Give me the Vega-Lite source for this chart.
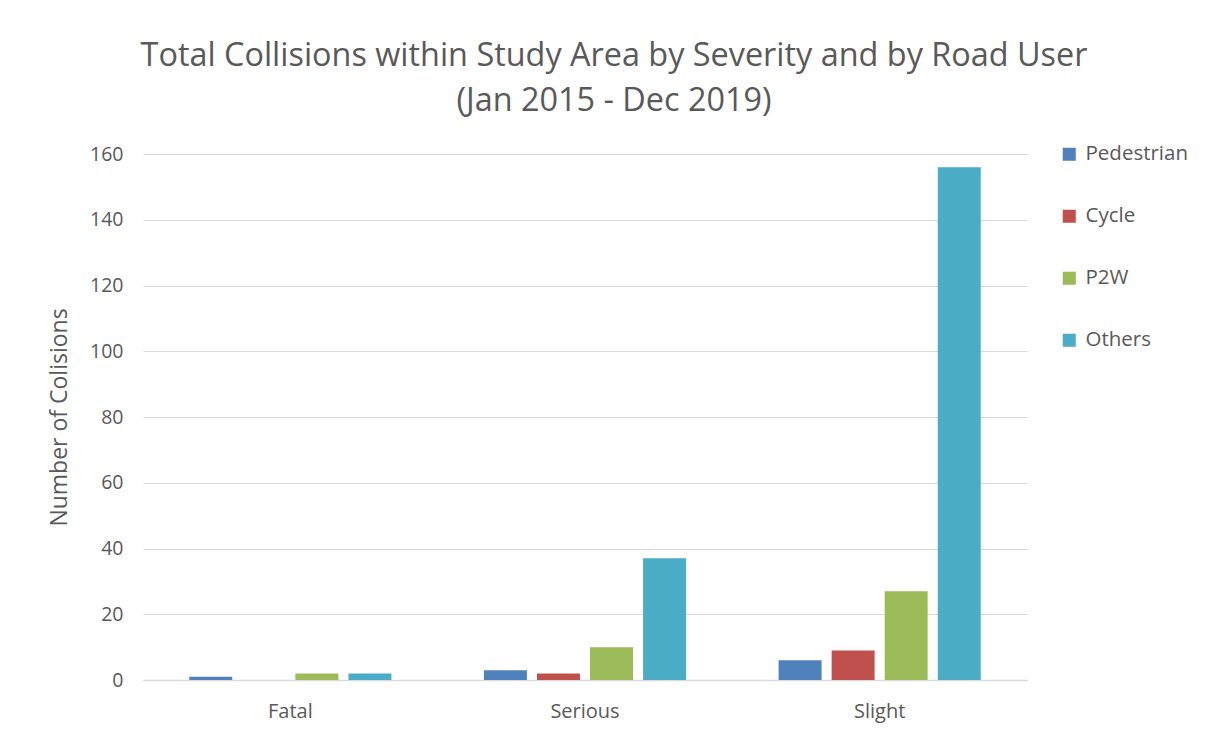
{
  "$schema": "https://vega.github.io/schema/vega-lite/v6.json",
  "autosize": "none",
  "width": 884,
  "height": 526,
  "padding": {"left": 143, "top": 154, "right": 192, "bottom": 55},
  "background": "white",
  "title": {
    "text": ["Total Collisions within Study Area by Severity and by Road User", "(Jan 2015 - Dec 2019)"],
    "anchor": "middle",
    "dx": 29,
    "offset": 27,
    "font": "Open Sans",
    "fontSize": 32.4,
    "fontWeight": "normal",
    "color": "#595959",
    "lineHeight": 45
  },
  "data": {
    "values": [
      {"severity": "Fatal", "user": "Pedestrian", "count": 1},
      {"severity": "Fatal", "user": "Cycle", "count": 0},
      {"severity": "Fatal", "user": "P2W", "count": 2},
      {"severity": "Fatal", "user": "Others", "count": 2},
      {"severity": "Serious", "user": "Pedestrian", "count": 3},
      {"severity": "Serious", "user": "Cycle", "count": 2},
      {"severity": "Serious", "user": "P2W", "count": 10},
      {"severity": "Serious", "user": "Others", "count": 37},
      {"severity": "Slight", "user": "Pedestrian", "count": 6},
      {"severity": "Slight", "user": "Cycle", "count": 9},
      {"severity": "Slight", "user": "P2W", "count": 27},
      {"severity": "Slight", "user": "Others", "count": 156}
    ]
  },
  "mark": {"type": "bar"},
  "encoding": {
    "x": {
      "field": "severity",
      "type": "nominal",
      "sort": ["Fatal", "Serious", "Slight"],
      "scale": {"paddingInner": 0.314, "paddingOuter": 0.157},
      "axis": {
        "title": null,
        "labelAngle": 0,
        "labelFont": "Open Sans",
        "labelFontSize": 20,
        "labelColor": "#595959",
        "labelPadding": 21,
        "ticks": false,
        "domainColor": "#d9d9d9",
        "domainWidth": 1.5
      }
    },
    "xOffset": {
      "field": "user",
      "type": "nominal",
      "sort": ["Pedestrian", "Cycle", "P2W", "Others"],
      "scale": {"paddingInner": 0.19, "paddingOuter": 0}
    },
    "y": {
      "field": "count",
      "type": "quantitative",
      "scale": {"domain": [0, 160]},
      "axis": {
        "title": "Number of Colisions",
        "titleFont": "Open Sans",
        "titleFontSize": 23,
        "titleFontWeight": "normal",
        "titleColor": "#595959",
        "titlePadding": 18,
        "values": [0, 20, 40, 60, 80, 100, 120, 140, 160],
        "labelFont": "Open Sans",
        "labelFontSize": 19.5,
        "labelColor": "#595959",
        "labelPadding": 20,
        "ticks": false,
        "domain": false,
        "gridColor": "#d9d9d9",
        "gridWidth": 1
      }
    },
    "color": {
      "field": "user",
      "type": "nominal",
      "sort": ["Pedestrian", "Cycle", "P2W", "Others"],
      "scale": {
        "domain": ["Pedestrian", "Cycle", "P2W", "Others"],
        "range": ["#4f81bd", "#c0504d", "#9bbb59", "#4bacc6"]
      },
      "legend": {
        "title": null,
        "orient": "none",
        "legendX": 916,
        "legendY": -10,
        "symbolType": "square",
        "symbolSize": 170,
        "symbolStrokeWidth": 0,
        "symbolOpacity": 1,
        "labelFont": "Open Sans",
        "labelFontSize": 20.5,
        "labelColor": "#595959",
        "labelOffset": 6,
        "rowPadding": 41
      }
    }
  },
  "config": {
    "view": {"stroke": null}
  }
}
